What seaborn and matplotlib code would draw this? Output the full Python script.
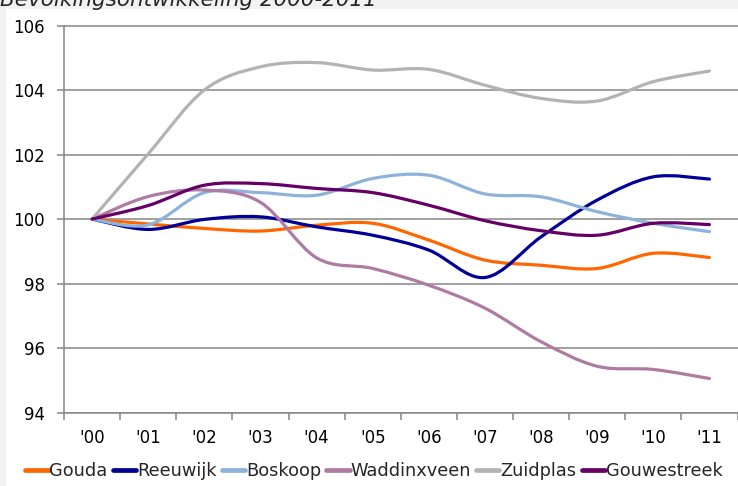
import numpy as np
import pandas as pd
import seaborn as sns
import matplotlib
matplotlib.use("Agg")
import matplotlib.pyplot as plt
from matplotlib.path import Path
from matplotlib.patches import PathPatch, Rectangle
from matplotlib.lines import Line2D

years = ["'00", "'01", "'02", "'03", "'04", "'05", "'06", "'07", "'08", "'09", "'10", "'11"]
gouda = [100.0, 99.85, 99.71, 99.63, 99.81, 99.87, 99.35, 98.73, 98.57, 98.47, 98.94, 98.81]
reeuwijk = [100.0, 99.68, 99.99, 100.07, 99.76, 99.50, 99.04, 98.19, 99.45, 100.59, 101.31, 101.24]
boskoop = [100.0, 99.82, 100.82, 100.82, 100.74, 101.26, 101.36, 100.78, 100.69, 100.23, 99.87, 99.61]
waddinxveen = [100.0, 100.70, 100.90, 100.52, 98.80, 98.47, 97.95, 97.24, 96.20, 95.44, 95.34, 95.06]
zuidplas = [100.0, 102.02, 104.0, 104.72, 104.85, 104.62, 104.64, 104.15, 103.74, 103.66, 104.26, 104.59]
gouwestreek = [100.0, 100.42, 101.05, 101.1, 100.95, 100.82, 100.43, 99.95, 99.64, 99.50, 99.87, 99.83]

series_names = ["Gouda", "Reeuwijk", "Boskoop", "Waddinxveen", "Zuidplas", "Gouwestreek"]
series_values = [gouda, reeuwijk, boskoop, waddinxveen, zuidplas, gouwestreek]
colors = ["#FF6600", "#000099", "#8DB3DA", "#AE7BA3", "#B3B3B3", "#660066"]

rows = []
for name, vals in zip(series_names, series_values):
    for i, v in enumerate(vals):
        rows.append({"gemeente": name, "jaar": i, "waarde": v})
df = pd.DataFrame(rows)

sns.set_theme(style="white")
plt.rcParams['font.family'] = ['DejaVu Sans']

W, H = 738, 486
fig = plt.figure(figsize=(W / 100, H / 100), dpi=100, facecolor="#F2F2F2")
fig.patches.append(Rectangle((6 / W, 0), 1, 1 - 9 / H, transform=fig.transFigure,
                             facecolor="white", edgecolor="none", zorder=-10))
ax = fig.add_axes([64 / W, 1 - 412.7 / H, 1 - 64 / W - 0.5 / W, (412.7 - 25.5) / H])
ax.set_facecolor("none")

palette = dict(zip(series_names, colors))
lw = 2.3
sns.lineplot(data=df, x="jaar", y="waarde", hue="gemeente", palette=palette,
             hue_order=series_names, legend=False, ax=ax, lw=lw)

# render each seaborn line as a smooth (Excel-like) Bezier curve through its points
for k, line in enumerate(list(ax.lines)):
    xy = np.asarray(line.get_xydata())
    col = line.get_color()
    n = len(xy)
    verts = [xy[0]]
    codes = [Path.MOVETO]
    for i in range(n - 1):
        p0 = xy[i - 1] if i > 0 else xy[i]
        p1 = xy[i]
        p2 = xy[i + 1]
        p3 = xy[i + 2] if i + 2 < n else xy[i + 1]
        c1 = p1 + (p2 - p0) / 6.0
        c2 = p2 - (p3 - p1) / 6.0
        verts += [c1, c2, p2]
        codes += [Path.CURVE4] * 3
    patch = PathPatch(Path(verts, codes), facecolor="none", edgecolor=col, lw=lw,
                      capstyle="round", joinstyle="round", zorder=3 + k)
    ax.add_patch(patch)
    line.remove()

ax.set_xlim(-0.5, 11.5)
ax.set_ylim(94, 106)
ax.set_yticks(np.arange(94, 107, 2))
ax.set_yticklabels([str(v) for v in range(94, 107, 2)])
ax.set_xticks(np.arange(-0.5, 12, 1))
ax.set_xticklabels([])
ax.set_xticks(range(len(years)), minor=True)
ax.set_xticklabels(years, minor=True)
ax.set_xlabel("")
ax.set_ylabel("")

gc = "#868686"
ax.yaxis.grid(True, color=gc, lw=1.1)
ax.set_axisbelow(True)
for s in ["top", "right"]:
    ax.spines[s].set_visible(False)
for s in ["left", "bottom"]:
    ax.spines[s].set_color(gc)
    ax.spines[s].set_linewidth(1.1)
ax.tick_params(axis="y", which="major", direction="out", length=5, width=1.1, color=gc,
               labelsize=12, pad=9, labelcolor="black", left=True)
ax.tick_params(axis="x", which="major", direction="out", length=5, width=1.1, color=gc,
               bottom=True)
ax.tick_params(axis="x", which="minor", length=0, labelsize=12, pad=12, labelcolor="black")

handles = [Line2D([], [], color=c, lw=3.4) for c in colors]
fig.legend(handles, series_names, loc="center", ncol=6, frameon=False,
           bbox_to_anchor=(374 / W, 1 - 471 / H), fontsize=12.8,
           handlelength=1.3, handletextpad=0.05, columnspacing=0.3, borderaxespad=0)

fig.text(0.0, 1 - 6 / H, "Bevolkingsontwikkeling 2000-2011", fontsize=15.5, style="italic",
         ha="left", va="baseline")

fig.savefig("out.png", dpi=100, facecolor=fig.get_facecolor())
